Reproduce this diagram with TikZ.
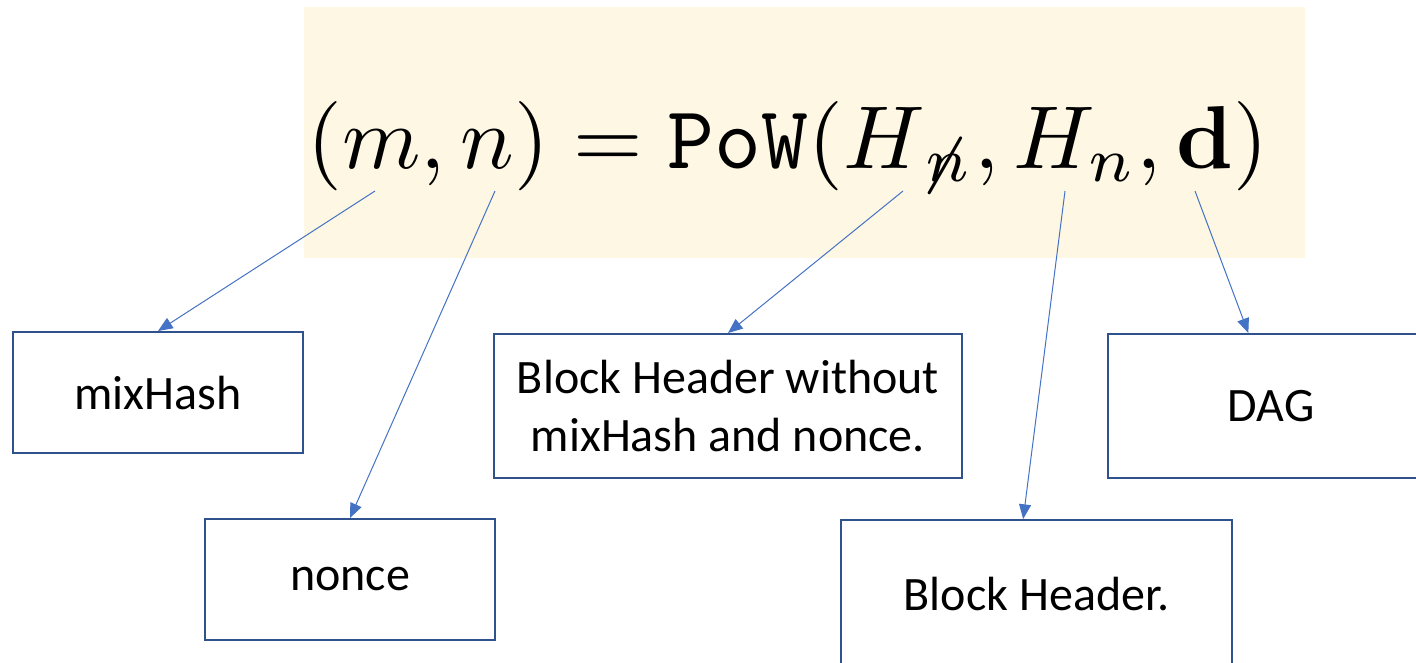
\documentclass[tikz,border=0pt]{standalone}
\usepackage{amsmath}
\usepackage{graphicx}
\usepackage[no-math]{fontspec}
\setmainfont{Carlito}
\usetikzlibrary{arrows.meta}

\definecolor{cream}{RGB}{253,247,228}
\definecolor{arrowblue}{RGB}{68,114,196}
\definecolor{boxblue}{RGB}{47,82,143}

\tikzset{
  fieldbox/.style={draw=boxblue, line width=1.5pt, fill=white, inner sep=0pt,
    align=center, font=\fontsize{36}{44}\selectfont},
  pointer/.style={draw=arrowblue, line width=0.75pt,
    -{Triangle[length=11pt,width=9pt]}}
}

\begin{document}
\begin{tikzpicture}[x=0.75pt,y=0.75pt,yscale=-1,xscale=1]
\clip (0,0) rectangle (1416,662);

%Shape: Rectangle (formula background)
\fill [cream] (304,7) rectangle (1305,258);

% Formula
\node (formula) [anchor=base, inner sep=0pt] at (788,168)
  {\scalebox{6.7}{$(m,n)=\mathtt{PoW}(H_{\not\mkern2mu n},H_n,\mathbf{d})$}};

% Coordinates under the terms
\coordinate (m) at (375,191);
\coordinate (n) at (495,191);
\coordinate (hx) at (903,191);
\coordinate (hn) at (1065,191);
\coordinate (d) at (1195,191);

% Boxes
\node (mix) [fieldbox, minimum width=217.5pt, minimum height=90.75pt] at (158,392.5) {mixHash};
\node (nonce) [fieldbox, minimum width=217.5pt, minimum height=90.75pt] at (350,579.5) {nonce};
\node (hdrx) [fieldbox, minimum width=351pt, minimum height=108pt] at (728,406) {Block Header without\\mixHash and nonce.};
\node (hdr) [fieldbox, minimum width=293.25pt, minimum height=111pt] at (1036.5,594) {Block Header.};
\node (dag) [fieldbox, minimum width=244.5pt, minimum height=108pt] at (1271,406) {DAG};

% Arrows
\draw [pointer] (m) -- (mix.north);
\draw [pointer] (n) -- (nonce.north);
\draw [pointer] (hx) -- (hdrx.north);
\draw [pointer] (hn) -- ([xshift=-10pt]hdr.north);
\draw [pointer] (d) -- ([xshift=-17pt]dag.north);

\end{tikzpicture}
\end{document}
